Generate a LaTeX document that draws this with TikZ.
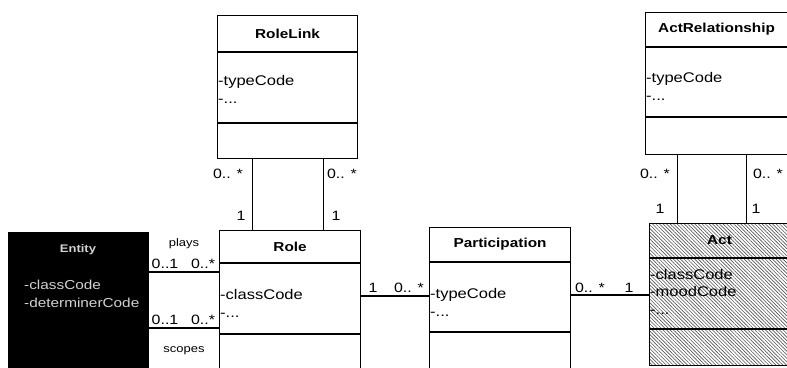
\documentclass[tikz,border=0pt]{standalone}
\usepackage{fontspec}
\setmainfont{Liberation Sans}
\newfontfamily\umlf[FakeStretch=1.18]{Liberation Sans}
\usetikzlibrary{patterns,patterns.meta,calc}
\begin{document}
\begin{tikzpicture}[x=1pt,y=-1pt,
  cls/.style={draw,line width=1.1pt,anchor=north west,inner sep=0pt,fill=white},
  sep/.style={line width=1.1pt},
  conn/.style={line width=1.1pt},
  ttl/.style={font=\umlf\fontsize{13}{15}\selectfont\bfseries,inner sep=0pt},
  attr/.style={font=\umlf\fontsize{14}{16}\selectfont,inner sep=0pt,anchor=base west},
  mult/.style={font=\umlf\fontsize{13.5}{15}\selectfont,inner sep=0pt,anchor=base},
  role/.style={font=\umlf\fontsize{11}{13}\selectfont,inner sep=0pt,anchor=base},
  ent/.style={font=\umlf\fontsize{13}{15}\selectfont,inner sep=0pt,text=gray!35}
]
\clip (0,0) rectangle (787,367);
\fill[white] (0,0) rectangle (787,367);

% ---------- classes ----------
\node[cls,minimum width=140pt,minimum height=143pt] (rolelink) at (217,15) {};
\node[cls,minimum width=142pt,minimum height=142pt] (actrel) at (645,12) {};
\node[cls,minimum width=141pt,minimum height=170pt] (role) at (219,230) {};
\node[cls,minimum width=141pt,minimum height=175pt] (part) at (429,227) {};
\node[cls,minimum width=145pt,minimum height=142pt,
      preaction={fill=white},
      pattern={Lines[angle=-45,distance=2.5pt,line width=0.65pt]},pattern color=black!65] (act) at (649,223) {};
\node[cls,fill=black,minimum width=140pt,minimum height=170pt] (entity) at (8,232) {};

% dividers
\draw[sep] ([yshift=-37pt]rolelink.north west) -- ([yshift=-37pt]rolelink.north east);
\draw[sep] ([yshift=-108pt]rolelink.north west) -- ([yshift=-108pt]rolelink.north east);
\draw[sep] ([yshift=-35pt]actrel.north west) -- ([yshift=-35pt]actrel.north east);
\draw[sep] ([yshift=-105pt]actrel.north west) -- ([yshift=-105pt]actrel.north east);
\draw[sep] ([yshift=-33pt]role.north west) -- ([yshift=-33pt]role.north east);
\draw[sep] ([yshift=-104pt]role.north west) -- ([yshift=-104pt]role.north east);
\draw[sep] ([yshift=-35pt]part.north west) -- ([yshift=-35pt]part.north east);
\draw[sep] ([yshift=-105pt]part.north west) -- ([yshift=-105pt]part.north east);
\draw[sep] ([yshift=-35pt]act.north west) -- ([yshift=-35pt]act.north east);
\draw[sep] ([yshift=-106pt]act.north west) -- ([yshift=-106pt]act.north east);

% titles
\node[ttl] (t1) at ($(rolelink.north)+(0,18.5)$) {RoleLink};
\node[ttl] (t2) at ($(actrel.north)+(0,17.5)$) {ActRelationship};
\node[ttl] (t3) at ($(role.north)+(0,16.5)$) {Role};
\node[ttl] (t4) at ($(part.north)+(0,17.5)$) {Participation};
\node[ttl] (t5) at ($(act.north west)+(70.5,17.5)$) {Act};

% attributes
\node[attr] (a1) at ($(rolelink.north west)+(1,70)$) {-typeCode};
\node[attr] (a2) at ($(rolelink.north west)+(1,88)$) {-...};
\node[attr] (a3) at ($(actrel.north west)+(1,70)$) {-typeCode};
\node[attr] (a4) at ($(actrel.north west)+(1,88)$) {-...};
\node[attr] (a5) at ($(role.north west)+(1,69)$) {-classCode};
\node[attr] (a6) at ($(role.north west)+(1,87)$) {-...};
\node[attr] (a7) at ($(part.north west)+(1,71)$) {-typeCode};
\node[attr] (a8) at ($(part.north west)+(1,89)$) {-...};
\node[attr] (a9) at ($(act.north west)+(1,56)$) {-classCode};
\node[attr] (a10) at ($(act.north west)+(1,73)$) {-moodCode};
\node[attr] (a11) at ($(act.north west)+(1,91)$) {-...};

% entity (faint text on black)
\node[ent,font=\umlf\fontsize{11}{13}\selectfont\bfseries] (e1) at (78,250) {Entity};
\node[ent,anchor=base west] (e2) at (24,289) {-classCode};
\node[ent,anchor=base west] (e3) at (24,307) {-determinerCode};

% ---------- connectors ----------
\draw[conn] ([xshift=-35pt]rolelink.south) -- ([xshift=-35pt]rolelink.south |- role.north);
\draw[conn] ([xshift=36pt]rolelink.south) -- ([xshift=36pt]rolelink.south |- role.north);
\draw[conn] ([xshift=-39pt]actrel.south) -- ([xshift=-39pt]actrel.south |- act.north);
\draw[conn] ([xshift=30pt]actrel.south) -- ([xshift=30pt]actrel.south |- act.north);
\coordinate (yrp) at (0,296);
\coordinate (ypa) at (0,295);
\coordinate (yplays) at (0,272);
\coordinate (yscopes) at (0,328);
\draw[conn] (role.east |- yrp) -- (part.west |- yrp);
\draw[conn] (part.east |- ypa) -- (act.west |- ypa);
\draw[conn] (entity.east |- yplays) -- (role.west |- yplays);
\draw[conn] (entity.east |- yscopes) -- (role.west |- yscopes);

% ---------- labels ----------
\node[mult] (m1) at (228,178) {0.. *};
\node[mult] (m2) at (241,220) {1};
\node[mult] (m3) at (342,178) {0.. *};
\node[mult] (m4) at (336,220) {1};
\node[mult] (m5) at (655,178) {0.. *};
\node[mult] (m6) at (660,213) {1};
\node[mult] (m7) at (768,178) {0.. *};
\node[mult] (m8) at (756,213) {1};
\node[mult] (m9) at (373,292) {1};
\node[mult] (m10) at (409,292) {0.. *};
\node[mult] (m11) at (590,292) {0.. *};
\node[mult] (m12) at (629,292) {1};
\node[role] (plays) at (184,246) {plays};
\node[mult] (m13) at (165,268) {0..1};
\node[mult] (m14) at (203,268) {0..*};
\node[mult] (m15) at (165,324) {0..1};
\node[mult] (m16) at (203,324) {0..*};
\node[role] (scopes) at (184,352) {scopes};
\end{tikzpicture}
\end{document}
